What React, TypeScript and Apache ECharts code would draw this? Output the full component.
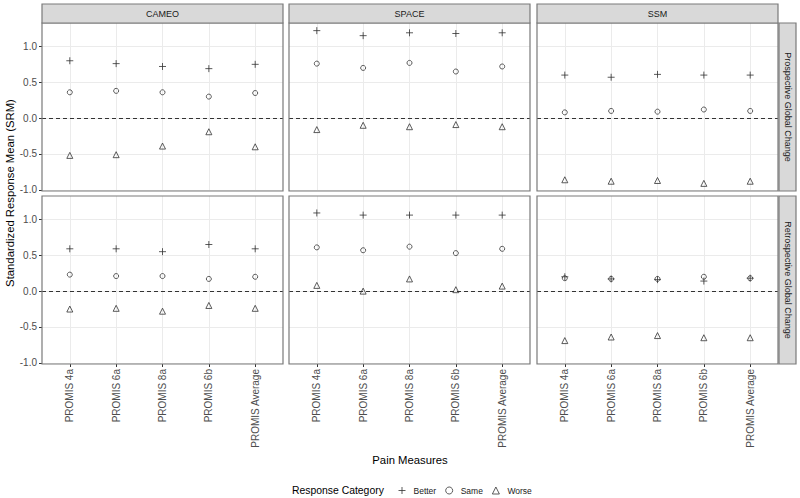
import React, { useEffect, useRef } from 'react';
import * as echarts from 'echarts';

// ---------- data ----------
const categories = ['PROMIS 4a', 'PROMIS 6a', 'PROMIS 8a', 'PROMIS 6b', 'PROMIS Average'];
const instruments = ['CAMEO', 'SPACE', 'SSM'];
const anchors = ['Prospective Global Change', 'Retrospective Global Change'];
const responseCategories = ['Better', 'Same', 'Worse'];
const yTicks = [-1, -0.5, 0, 0.5, 1];

// Prospective Global Change
const cameoProBetter = [0.80, 0.76, 0.72, 0.69, 0.75];
const cameoProSame = [0.36, 0.38, 0.36, 0.30, 0.35];
const cameoProWorse = [-0.52, -0.51, -0.39, -0.19, -0.40];
const spaceProBetter = [1.22, 1.15, 1.19, 1.18, 1.19];
const spaceProSame = [0.76, 0.70, 0.77, 0.65, 0.72];
const spaceProWorse = [-0.16, -0.10, -0.12, -0.09, -0.12];
const ssmProBetter = [0.60, 0.57, 0.61, 0.60, 0.60];
const ssmProSame = [0.08, 0.10, 0.09, 0.12, 0.10];
const ssmProWorse = [-0.86, -0.88, -0.87, -0.91, -0.88];

// Retrospective Global Change
const cameoRetBetter = [0.59, 0.59, 0.55, 0.65, 0.59];
const cameoRetSame = [0.23, 0.21, 0.21, 0.17, 0.20];
const cameoRetWorse = [-0.25, -0.24, -0.28, -0.20, -0.24];
const spaceRetBetter = [1.09, 1.06, 1.06, 1.06, 1.06];
const spaceRetSame = [0.61, 0.57, 0.62, 0.53, 0.59];
const spaceRetWorse = [0.08, 0.00, 0.17, 0.02, 0.07];
const ssmRetBetter = [0.20, 0.17, 0.16, 0.14, 0.18];
const ssmRetSame = [0.18, 0.17, 0.17, 0.20, 0.18];
const ssmRetWorse = [-0.69, -0.64, -0.62, -0.65, -0.65];

const panelData = [
  [
    [cameoProBetter, cameoProSame, cameoProWorse],
    [spaceProBetter, spaceProSame, spaceProWorse],
    [ssmProBetter, ssmProSame, ssmProWorse],
  ],
  [
    [cameoRetBetter, cameoRetSame, cameoRetWorse],
    [spaceRetBetter, spaceRetSame, spaceRetWorse],
    [ssmRetBetter, ssmRetSame, ssmRetWorse],
  ],
];

// ---------- layout / style ----------
const FONT = 'Liberation Sans, Arial, Helvetica, sans-serif';
const COL_LEFT = [42, 289, 537];
const PANEL_W = 241;
const ROW_TOP = [23, 196];
const PANEL_H = 168;
const BORDER = '#7a7a7a';
const STRIP_FILL = '#d9d9d9';
const GRID_LINE = '#ebebeb';
const MARK = '#333333';
const LABEL_GREY = '#4d4d4d';
const PLUS_PATH = 'path://M0,5L10,5M5,0L5,10';
const SYMBOLS = [PLUS_PATH, 'circle', 'triangle'];
const SIZES = [7, 5, 6];

export default function App() {
  const ref = useRef<HTMLDivElement>(null);

  useEffect(() => {
    if (!ref.current) return;
    const chart = echarts.init(ref.current, undefined, { renderer: 'svg' });

    let all: number[] = [];
    panelData.forEach((row) => row.forEach((p) => p.forEach((s) => (all = all.concat(s)))));
    const dMin = Math.min(...all);
    const dMax = Math.max(...all);
    const span = dMax - dMin;
    const yMin = dMin - 0.05 * span;
    const yMax = dMax + 0.05 * span;

    const grids: any[] = [];
    const xAxes: any[] = [];
    const yAxes: any[] = [];
    const series: any[] = [];
    const graphics: any[] = [];

    let idx = 0;
    for (let r = 0; r < 2; r++) {
      for (let c = 0; c < 3; c++) {
        grids.push({
          left: COL_LEFT[c],
          top: ROW_TOP[r],
          width: PANEL_W,
          height: PANEL_H,
          containLabel: false,
          outerBoundsMode: 'none',
        });
        xAxes.push({
          gridIndex: idx,
          type: 'value',
          position: 'bottom',
          min: -0.6,
          max: 4.6,
          splitNumber: 5,
          axisLine: { show: false, onZero: false },
          axisTick: {
            show: r === 1,
            length: 3,
            lineStyle: { color: MARK, width: 1 },
            customValues: [0, 1, 2, 3, 4],
          },
          axisLabel: {
            show: r === 1,
            rotate: 90,
            fontSize: 10,
            fontFamily: FONT,
            color: LABEL_GREY,
            margin: 5,
            customValues: [0, 1, 2, 3, 4],
            formatter: (v: number) => {
              const i = Math.round(v);
              return Math.abs(v - i) < 1e-6 && i >= 0 && i < categories.length ? categories[i] : '';
            },
          },
          splitLine: { show: true, lineStyle: { color: GRID_LINE, width: 1 } },
        });
        yAxes.push({
          gridIndex: idx,
          type: 'value',
          position: 'left',
          min: yMin,
          max: yMax,
          splitNumber: 5,
          axisLine: { show: false, onZero: false },
          axisTick: {
            show: c === 0,
            length: 3,
            lineStyle: { color: MARK, width: 1 },
            customValues: yTicks,
          },
          axisLabel: {
            show: c === 0,
            fontSize: 10,
            fontFamily: FONT,
            color: LABEL_GREY,
            margin: 5,
            customValues: yTicks,
            formatter: (v: number) => {
              const k = Math.round(v * 2);
              return Math.abs(v * 2 - k) < 1e-6 ? (k / 2).toFixed(1) : '';
            },
          },
          splitLine: { show: true, lineStyle: { color: GRID_LINE, width: 1 } },
        });

        const pd = panelData[r][c];
        for (let k = 0; k < 3; k++) {
          const s: any = {
            type: 'scatter',
            name: responseCategories[k],
            xAxisIndex: idx,
            yAxisIndex: idx,
            data: pd[k].map((v, i) => [i, v]),
            symbol: SYMBOLS[k],
            symbolSize: SIZES[k],
            itemStyle: { color: 'rgba(0,0,0,0)', borderColor: MARK, borderWidth: 1 },
            emphasis: { disabled: true },
            z: 3,
          };
          if (k === 0) {
            s.markLine = {
              silent: true,
              symbol: ['none', 'none'],
              label: { show: false },
              lineStyle: { color: MARK, type: [4, 3], width: 1 },
              emphasis: { disabled: true },
              data: [{ yAxis: 0 }],
            };
          }
          series.push(s);
        }

        // panel border
        graphics.push({
          type: 'rect',
          z: 100,
          shape: { x: COL_LEFT[c], y: ROW_TOP[r], width: PANEL_W, height: PANEL_H },
          style: { fill: 'none', stroke: BORDER, lineWidth: 1.2 },
        });
        idx++;
      }
    }

    // top strips
    for (let c = 0; c < 3; c++) {
      graphics.push({
        type: 'rect',
        z: 100,
        shape: { x: COL_LEFT[c], y: 4, width: PANEL_W, height: 19 },
        style: { fill: STRIP_FILL, stroke: BORDER, lineWidth: 1.2 },
      });
      graphics.push({
        type: 'text',
        z: 101,
        x: COL_LEFT[c] + PANEL_W / 2,
        y: 13.5,
        style: {
          text: instruments[c],
          align: 'center',
          verticalAlign: 'middle',
          fontSize: 9,
          fontFamily: FONT,
          fill: '#1a1a1a',
        },
      });
    }

    // right strips
    for (let r = 0; r < 2; r++) {
      graphics.push({
        type: 'rect',
        z: 100,
        shape: { x: 779, y: ROW_TOP[r], width: 17, height: PANEL_H },
        style: { fill: STRIP_FILL, stroke: BORDER, lineWidth: 1.2 },
      });
      graphics.push({
        type: 'text',
        z: 101,
        x: 787.5,
        y: ROW_TOP[r] + PANEL_H / 2,
        rotation: -Math.PI / 2,
        style: {
          text: anchors[r],
          align: 'center',
          verticalAlign: 'middle',
          fontSize: 9,
          fontFamily: FONT,
          fill: '#1a1a1a',
        },
      });
    }

    // axis titles
    graphics.push({
      type: 'text',
      x: 10,
      y: 193,
      rotation: Math.PI / 2,
      style: {
        text: 'Standardized Response Mean (SRM)',
        align: 'center',
        verticalAlign: 'middle',
        fontSize: 11.3,
        fontFamily: FONT,
        fill: '#000',
      },
    });
    graphics.push({
      type: 'text',
      x: 410,
      y: 460,
      style: {
        text: 'Pain Measures',
        align: 'center',
        verticalAlign: 'middle',
        fontSize: 11.3,
        fontFamily: FONT,
        fill: '#000',
      },
    });
    graphics.push({
      type: 'text',
      x: 292,
      y: 490,
      style: {
        text: 'Response Category',
        align: 'left',
        verticalAlign: 'middle',
        fontSize: 10.4,
        fontFamily: FONT,
        fill: '#000',
      },
    });

    const legendStyle = { color: 'rgba(0,0,0,0)', borderColor: MARK, borderWidth: 1 };

    chart.setOption({
      animation: false,
      backgroundColor: '#ffffff',
      textStyle: { fontFamily: FONT },
      grid: grids,
      xAxis: xAxes,
      yAxis: yAxes,
      series,
      legend: {
        left: 398,
        top: 486,
        padding: 0,
        itemWidth: 7,
        itemHeight: 7,
        itemGap: 9,
        selectedMode: false,
        textStyle: { fontSize: 8.5, color: '#1a1a1a', fontFamily: FONT, padding: [0, 0, 0, 3] },
        data: [
          { name: 'Better', icon: PLUS_PATH, itemStyle: legendStyle },
          { name: 'Same', icon: 'circle', itemStyle: legendStyle },
          { name: 'Worse', icon: 'triangle', itemStyle: legendStyle },
        ],
      },
      graphic: graphics,
    });

    return () => chart.dispose();
  }, []);

  return (
    <div
      ref={ref}
      style={{ position: 'fixed', left: 0, top: 0, width: 800, height: 498, background: '#fff' }}
    />
  );
}
